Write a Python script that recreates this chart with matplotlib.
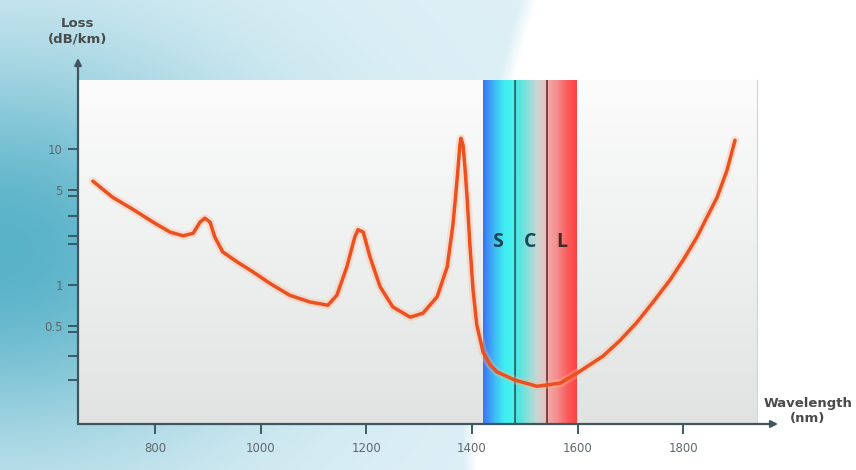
import numpy as np
import matplotlib
matplotlib.use("Agg")
import matplotlib.pyplot as plt
from matplotlib.colors import LinearSegmentedColormap

# attenuation curve of silica fibre
wavelength = [682, 720, 758, 796, 828, 853, 872, 885, 894, 904, 913, 928, 955, 985,
              1017, 1055, 1093, 1127, 1144, 1163, 1178, 1184, 1194, 1207, 1226, 1250,
              1283, 1307, 1334, 1353, 1364, 1370, 1374, 1377, 1379, 1383, 1387, 1391,
              1396, 1402, 1409, 1421, 1434, 1447, 1481, 1523, 1567, 1599, 1648, 1680,
              1712, 1743, 1775, 1800, 1826, 1845, 1864, 1883, 1898]
loss = [5.8, 4.4, 3.6, 2.9, 2.45, 2.3, 2.4, 2.9, 3.1, 2.9, 2.25, 1.75, 1.48, 1.25,
        1.03, 0.84, 0.75, 0.71, 0.84, 1.36, 2.25, 2.55, 2.45, 1.6, 0.97, 0.69,
        0.58, 0.62, 0.82, 1.36, 2.8, 5.0, 7.6, 10.7, 12.0, 10.7, 7.0, 4.2,
        1.97, 0.92, 0.51, 0.32, 0.26, 0.23, 0.20, 0.18, 0.19, 0.225, 0.30, 0.39,
        0.53, 0.75, 1.09, 1.53, 2.25, 3.16, 4.4, 7.0, 11.6]

# telecom bands
band_names = ["S", "C", "L"]
band_edges = [1421, 1481, 1542, 1600]

x_ticks = [800, 1000, 1200, 1400, 1600, 1800]
y_major = [10, 5, 1, 0.5]
y_major_labels = ["10", "5", "1", "0.5"]
y_minor = [4.5, 3.2, 2.3, 2.0, 0.45, 0.3, 0.2]

W, H = 856, 470
fig = plt.figure(figsize=(W / 100, H / 100), dpi=100)

# background: teal glow on the left, white oval on the right
bg = fig.add_axes([0, 0, 1, 1], zorder=-10)
px, py = np.meshgrid(np.arange(W), np.arange(H))
light = np.array([222, 240, 246]) / 255
dark = np.array([88, 178, 200]) / 255
t = np.exp(-(px / 260.0) ** 2) * np.exp(-((py - 250) / 200.0) ** 2)
img = light[None, None, :] - t[..., None] * (light - dark)[None, None, :]
d = np.sqrt(((px - 800) / 331.0) ** 2 + ((py - 420) / 737.0) ** 2)
wmask = np.clip((1.0 - d) * 25 + 0.5, 0, 1)
img = img * (1 - wmask[..., None]) + wmask[..., None]
bg.imshow(img, aspect="auto", extent=(0, 1, 0, 1), origin="upper")
bg.axis("off")

# main axes, pixel box 78..757 x 80..424
left, right, top, bottom = 78, 757, 80, 424
ax = fig.add_axes([left / W, 1 - bottom / H, (right - left) / W, (bottom - top) / H])
ax.set_facecolor("none")
ax.set_yscale("log")

grad = np.linspace(0, 1, 256).reshape(-1, 1)
gray = LinearSegmentedColormap.from_list("g", ["#fcfcfc", "#e1e3e3"])
ax.imshow(grad, cmap=gray, extent=(0, 1, 0, 1), transform=ax.transAxes,
          aspect="auto", origin="upper", zorder=0)

band_cmaps = [
    ["#3a76f4", "#3fb8f6", "#40eef0", "#48f2ee"],
    ["#40e4e0", "#7fe2dc", "#c8d6d2", "#f2bcbc"],
    ["#f3aaaa", "#f58a8a", "#fb5a5a", "#ff4040"],
]
hgrad = np.linspace(0, 1, 256).reshape(1, -1)
for i in range(3):
    cm = LinearSegmentedColormap.from_list("b%d" % i, band_cmaps[i])
    ax.imshow(hgrad, cmap=cm, extent=(band_edges[i], band_edges[i + 1], 0, 1),
              transform=ax.get_xaxis_transform(), aspect="auto", zorder=1)
ax.axvline(band_edges[1], color="#1d6a6c", lw=1.3, zorder=2)
ax.axvline(band_edges[2], color="#6e3a3a", lw=1.3, zorder=2)
label_colors = ["#1b4658", "#1b4658", "#472828"]
for i, name in enumerate(band_names):
    ax.text((band_edges[i] + band_edges[i + 1]) / 2 - 2, 2.07, name, ha="center",
            va="center", fontsize=14, color=label_colors[i], family="Open Sans",
            fontweight="bold", zorder=3)

# curve with a soft glow
ax.plot(wavelength, loss, color="#ffb890", lw=6, alpha=0.35, zorder=4,
        solid_joinstyle="round", solid_capstyle="round")
ax.plot(wavelength, loss, color="#ec4f20", lw=2.5, zorder=5,
        solid_joinstyle="round", solid_capstyle="round")

x0 = 1300 + (left - 419.2) / 0.5281
x1 = 1300 + (right - 419.2) / 0.5281
ax.set_xlim(x0, x1)
ax.set_ylim(10 ** ((285 - bottom) / 136), 10 ** ((285 - top) / 136))

ax.set_xticks(x_ticks)
ax.set_xticklabels([str(v) for v in x_ticks])
ax.set_yticks(y_major)
ax.set_yticklabels(y_major_labels)
ax.set_yticks(y_minor, minor=True)
ax.yaxis.set_minor_formatter(plt.NullFormatter())
ax.set_xticks([], minor=True)
ax.tick_params(axis="both", which="both", direction="out", length=7, width=1.4,
               color="#3d5a66", labelcolor="#5f686c", labelsize=8.5)
ax.tick_params(axis="x", pad=6)
ax.tick_params(axis="y", pad=4)

for s in ["top", "left", "bottom"]:
    ax.spines[s].set_visible(False)
ax.spines["right"].set_color("#d6d9d9")
ax.spines["right"].set_linewidth(1.0)

# axis lines with arrowheads
ax.annotate("", xy=(0, 1.064), xytext=(0, 0), xycoords="axes fraction",
            arrowprops=dict(arrowstyle="-|>", color="#3f5560", lw=1.6,
                            mutation_scale=10, shrinkA=0, shrinkB=0), zorder=6)
ax.annotate("", xy=(1.031, 0), xytext=(0, 0), xycoords="axes fraction",
            arrowprops=dict(arrowstyle="-|>", color="#3f5560", lw=1.6,
                            mutation_scale=10, shrinkA=0, shrinkB=0), zorder=6)

fig.text(78 / W, 1 - 31 / H, "Loss\n(dB/km)", ha="center", va="center",
         fontsize=9.5, fontweight="bold", color="#4a4a4a", linespacing=1.25)
fig.text(808 / W, 1 - 411 / H, "Wavelength\n(nm)", ha="center", va="center",
         fontsize=9.5, fontweight="bold", color="#4a4a4a", linespacing=1.25)

plt.savefig("out.png", dpi=100)
